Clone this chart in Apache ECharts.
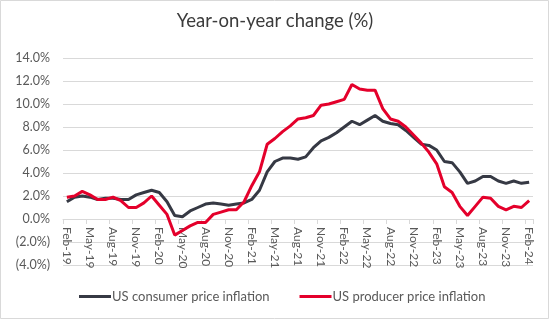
<!DOCTYPE html>
<html>
<head>
<meta charset="utf-8">
<script src="https://cdn.jsdelivr.net/npm/echarts@6/dist/echarts.min.js"></script>
<style>
  html, body { margin: 0; padding: 0; background: #ffffff; }
  #chart { width: 550px; height: 330px; }
</style>
</head>
<body>
<div id="chart"></div>
<script>
// Monthly year-on-year inflation, Feb 2019 to Feb 2024 (per cent)
const months = [
  'Feb-19','Mar-19','Apr-19','May-19','Jun-19','Jul-19','Aug-19','Sep-19','Oct-19','Nov-19','Dec-19','Jan-20',
  'Feb-20','Mar-20','Apr-20','May-20','Jun-20','Jul-20','Aug-20','Sep-20','Oct-20','Nov-20','Dec-20','Jan-21',
  'Feb-21','Mar-21','Apr-21','May-21','Jun-21','Jul-21','Aug-21','Sep-21','Oct-21','Nov-21','Dec-21','Jan-22',
  'Feb-22','Mar-22','Apr-22','May-22','Jun-22','Jul-22','Aug-22','Sep-22','Oct-22','Nov-22','Dec-22','Jan-23',
  'Feb-23','Mar-23','Apr-23','May-23','Jun-23','Jul-23','Aug-23','Sep-23','Oct-23','Nov-23','Dec-23','Jan-24',
  'Feb-24'
];

const consumerInflation = [
  1.5, 1.9, 2.0, 1.9, 1.7, 1.8, 1.8, 1.7, 1.7, 2.1, 2.3, 2.5,
  2.3, 1.5, 0.3, 0.2, 0.7, 1.0, 1.3, 1.4, 1.3, 1.2, 1.3, 1.4,
  1.7, 2.5, 4.1, 5.0, 5.3, 5.3, 5.2, 5.4, 6.2, 6.8, 7.1, 7.5,
  8.0, 8.5, 8.2, 8.6, 9.0, 8.5, 8.3, 8.2, 7.7, 7.1, 6.5, 6.4,
  6.0, 5.0, 4.9, 4.1, 3.1, 3.3, 3.7, 3.7, 3.3, 3.1, 3.3, 3.1,
  3.2
];

const producerInflation = [
  1.9, 2.0, 2.4, 2.1, 1.7, 1.7, 1.9, 1.6, 1.0, 1.0, 1.4, 2.0,
  1.2, 0.4, -1.4, -1.0, -0.6, -0.3, -0.3, 0.4, 0.6, 0.8, 0.8, 1.5,
  2.9, 4.1, 6.5, 7.0, 7.6, 8.1, 8.7, 8.8, 9.0, 9.9, 10.0, 10.2,
  10.4, 11.7, 11.3, 11.2, 11.2, 9.6, 8.7, 8.5, 8.0, 7.3, 6.6, 5.8,
  4.8, 2.8, 2.3, 1.1, 0.3, 1.1, 1.9, 1.8, 1.1, 0.8, 1.1, 1.0,
  1.6
];

const seriesNames = ['US consumer price inflation', 'US producer price inflation'];
const yTicks = { min: -4, max: 14, step: 2 };

const FONT = 'Lato, "Open Sans", sans-serif';
const TEXT = '#595959';
const GRID = '#d9d9d9';

// Plot area
const PLOT = { left: 63, right: 17, top: 58, bottom: 65 };
const plotHeight = 330 - PLOT.top - PLOT.bottom;
// The category axis sits on the zero line, labels included
const zeroOffset = plotHeight * (0 - yTicks.min) / (yTicks.max - yTicks.min);

function pct(v) {
  const s = Math.abs(v).toFixed(1) + '%';
  return v < 0 ? '(' + s + ')' : s;
}

const chart = echarts.init(document.getElementById('chart'), null, { renderer: 'canvas' });

chart.setOption({
  animation: false,
  backgroundColor: '#ffffff',
  title: {
    text: 'Year-on-year change (%)',
    left: 'center',
    top: 7,
    textStyle: { fontFamily: FONT, fontSize: 18.5, fontWeight: 'normal', color: '#3b3b3b' }
  },
  graphic: [{
    type: 'rect',
    silent: true,
    shape: { x: 0.5, y: 0.5, width: 548, height: 318 },
    style: { fill: 'none', stroke: GRID, lineWidth: 1 },
    z: -1
  }],
  legend: {
    bottom: 22,
    left: 74,
    itemGap: 30,
    itemWidth: 32,
    itemHeight: 3,
    icon: 'rect',
    textStyle: { fontFamily: FONT, fontSize: 13, color: TEXT, padding: [0, 0, 0, -4] },
    data: seriesNames
  },
  grid: { left: PLOT.left, right: PLOT.right, top: PLOT.top, bottom: PLOT.bottom, containLabel: false },
  xAxis: {
    type: 'category',
    data: months,
    boundaryGap: true,
    position: 'bottom',
    offset: -zeroOffset,
    axisLine: { onZero: false, lineStyle: { color: GRID, width: 1 } },
    axisTick: { show: true, interval: 2, length: 5, lineStyle: { color: GRID } },
    axisLabel: {
      interval: 2,
      rotate: -90,
      margin: 8,
      fontFamily: FONT,
      fontSize: 12,
      color: TEXT
    },
    splitLine: { show: false }
  },
  yAxis: {
    type: 'value',
    min: yTicks.min,
    max: yTicks.max,
    interval: yTicks.step,
    axisLine: { show: false },
    axisTick: { show: false },
    axisLabel: { formatter: pct, margin: 13, fontFamily: FONT, fontSize: 12.5, color: TEXT },
    splitLine: { lineStyle: { color: GRID, width: 1 } }
  },
  series: [
    {
      name: seriesNames[0],
      type: 'line',
      data: consumerInflation,
      symbol: 'none',
      smooth: false,
      lineStyle: { color: '#363944', width: 3 },
      itemStyle: { color: '#363944' },
      z: 3
    },
    {
      name: seriesNames[1],
      type: 'line',
      data: producerInflation,
      symbol: 'none',
      smooth: false,
      lineStyle: { color: '#e4002b', width: 3 },
      itemStyle: { color: '#e4002b' },
      z: 4
    }
  ]
});
</script>
</body>
</html>
